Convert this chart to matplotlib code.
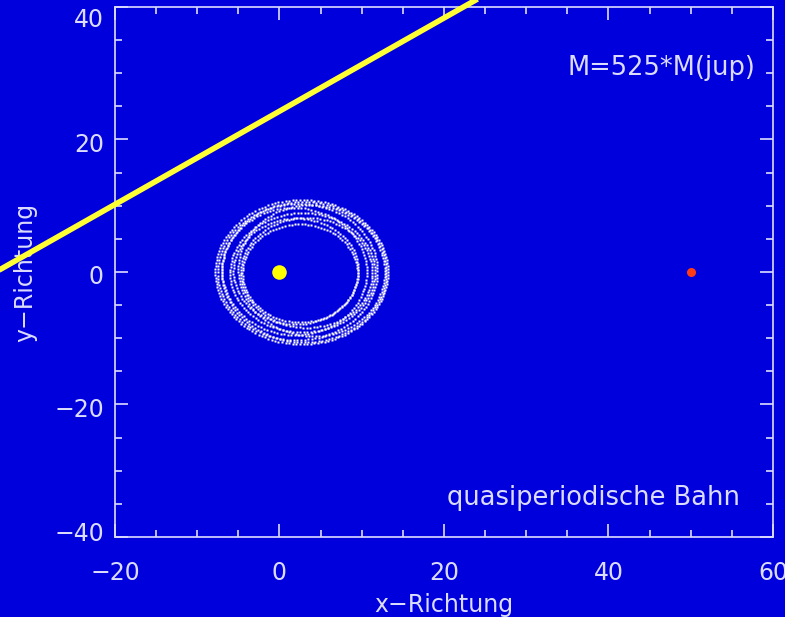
import numpy as np
import matplotlib
matplotlib.use("Agg")
import matplotlib.pyplot as plt
from matplotlib.transforms import ScaledTranslation

# --- data -------------------------------------------------------------
# star and massive perturber positions
star_x, star_y = [0.0], [0.0]
planet_x, planet_y = [50.0], [0.0]

# straight trajectory crossing the field
traj_x = [-34.5, 24.5]
traj_y = [0.0, 41.5]

# individual revolutions of the quasi-periodic orbit: centre, semi-axes, tilt (deg)
loop_cx = [2.7, 1.8, 2.8, 3.9, 2.5, 2.2, 3.3, 2.0, 3.0]
loop_cy = [0.0, 0.1, -0.1, 0.2, -0.2, 0.0, -0.1, 0.1, 0.0]
loop_a = [10.5, 8.8, 8.8, 8.9, 7.0, 9.7, 8.0, 7.6, 10.0]
loop_b = [10.9, 9.6, 9.0, 9.9, 7.4, 10.3, 8.3, 8.0, 10.6]
loop_tilt = [0.0, 4.0, -3.0, 6.0, 0.0, -5.0, 3.0, -2.0, 2.0]
loop_npts = [150, 130, 130, 135, 110, 140, 120, 115, 145]

x_ticks = [-20, 0, 20, 40, 60]
y_ticks = [-40, -20, 0, 20, 40]

label_mass = "M=525*M(jup)"
label_orbit = "quasiperiodische Bahn"
x_label = "x\u2212Richtung"
y_label = "y\u2212Richtung"

# --- styling ----------------------------------------------------------
bg = "#0000dd"
fg = "#dcdcff"

fig = plt.figure(figsize=(7.85, 6.17), dpi=100, facecolor=bg)
ax = fig.add_axes([0.1465, 0.1297, 0.8382, 0.859])
ax.set_facecolor(bg)

ax.set_xlim(-20, 60)
ax.set_ylim(-40, 40)

# orbit dots
for cx, cy, a, b, tilt, n in zip(loop_cx, loop_cy, loop_a, loop_b, loop_tilt, loop_npts):
    t = np.linspace(0, 2 * np.pi, n, endpoint=False)
    th = np.deg2rad(tilt)
    ex, ey = a * np.cos(t), b * np.sin(t)
    px = cx + ex * np.cos(th) - ey * np.sin(th)
    py = cy + ex * np.sin(th) + ey * np.cos(th)
    ax.plot(px, py, ls="none", marker="s", ms=2.0, mec="none", mfc="white", zorder=3)

ax.plot(star_x, star_y, ls="none", marker="o", ms=10.5, mfc="#ffff00", mec="none", zorder=4)
ax.plot(planet_x, planet_y, ls="none", marker="o", ms=6.5, mfc="#ff3c14", mec="none", zorder=4)

ax.plot(traj_x, traj_y, color="#ffff33", lw=4.0, clip_on=False, zorder=5,
        solid_capstyle="butt")

# axes frame and ticks
for sp in ax.spines.values():
    sp.set_color(fg)
    sp.set_linewidth(1.2)

ax.set_xticks(x_ticks)
ax.set_yticks(y_ticks)
ax.set_xticks(np.arange(-20, 61, 5), minor=True)
ax.set_yticks(np.arange(-40, 41, 5), minor=True)
ax.tick_params(which="both", direction="in", top=True, right=True, color=fg, width=1.2)
ax.tick_params(which="major", length=9.5)
ax.tick_params(which="minor", length=5)
ax.tick_params(axis="x", which="major", pad=17, labelsize=17, labelcolor=fg)
ax.tick_params(axis="y", which="major", pad=8, labelsize=17, labelcolor=fg)

# keep the outermost y labels inside the figure
fig.canvas.draw()
ylabels = ax.get_yticklabels()
shifts = {"40": -11, "\u221240": 5}
for lab in ylabels:
    dy = shifts.get(lab.get_text(), -3)
    lab.set_transform(lab.get_transform() + ScaledTranslation(0, dy / 100, fig.dpi_scale_trans))

ax.set_xlabel(x_label, color=fg, fontsize=17, labelpad=6)
ax.set_ylabel(y_label, color=fg, fontsize=17, labelpad=12)

ax.text(0.973, 0.885, label_mass, transform=ax.transAxes, ha="right", va="center",
        color=fg, fontsize=18.5)
ax.text(0.950, 0.074, label_orbit, transform=ax.transAxes, ha="right", va="center",
        color=fg, fontsize=18.5)

fig.savefig("out.png", dpi=100, facecolor=bg)
